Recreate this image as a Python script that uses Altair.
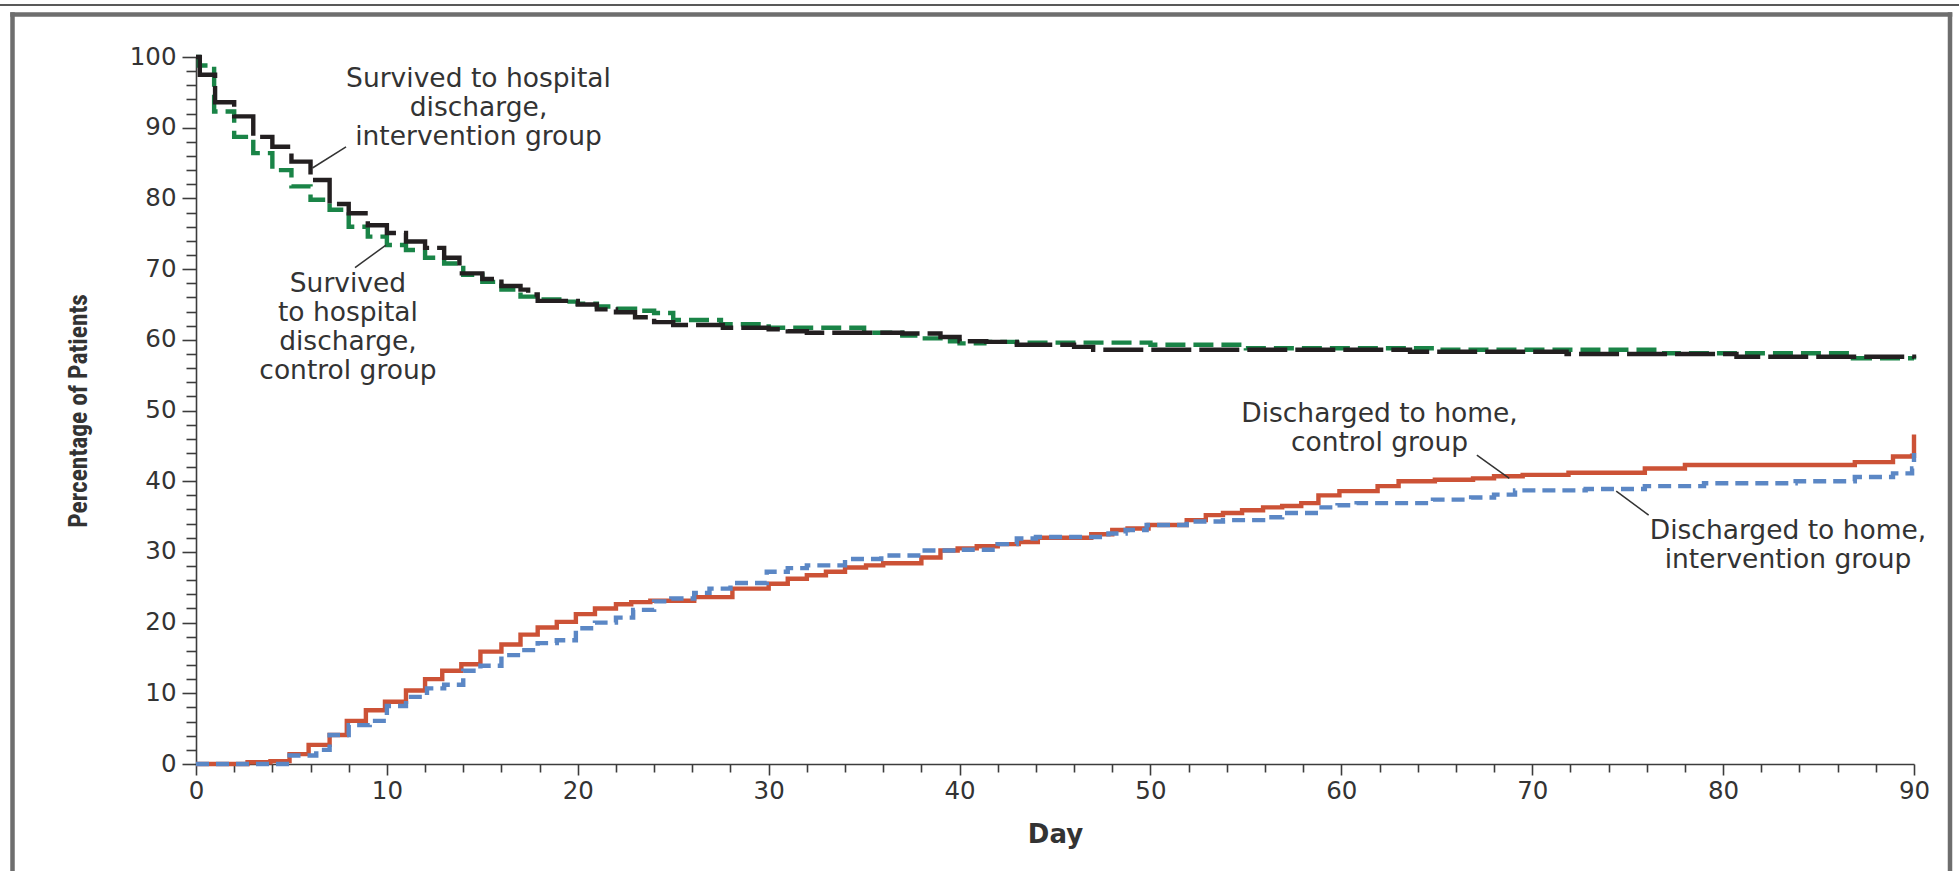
import altair as alt
import pandas as pd

# ---- Survived to hospital discharge, intervention group (black, long dash)
surv_int_day = [0, 0.2, 1, 2, 3, 4, 5, 6, 7, 8, 9, 10, 11, 12, 13, 13.8, 15, 16, 17, 17.4, 17.9,
                20, 21, 22, 23, 24, 25, 27.6, 30, 31, 32, 37, 39, 40, 41.4, 43, 46, 47, 63.6,
                71.8, 80.7, 90]
surv_int_pct = [100, 97.5, 93.6, 91.6, 88.7, 87.3, 85.2, 82.6, 79.2, 77.9, 76.2, 75.1, 73.9, 73.0,
                71.6, 69.4, 68.6, 67.6, 67.1, 66.4, 65.5, 65.0, 64.3, 63.9, 63.2, 62.5, 62.1, 61.7,
                61.5, 61.2, 61.0, 60.9, 60.4, 59.8, 59.7, 59.3, 59.0, 58.6, 58.3, 58.0, 57.6, 57.4]

# ---- Survived to hospital discharge, control group (green, dash)
surv_ctl_day = [0, 0.15, 0.95, 2, 3, 4, 5, 6, 7, 8, 9, 10, 11, 12, 13, 14, 15, 16, 17, 18, 19.2,
                20, 21, 22, 23, 24, 25, 27.5, 30, 35, 37, 38, 39, 40, 41.3, 43, 50, 55, 65, 76.8,
                86.8, 90]
surv_ctl_pct = [100, 98.8, 92.3, 88.7, 86.4, 84.0, 81.7, 79.8, 78.4, 76.0, 74.6, 73.4, 72.7, 71.6,
                70.8, 69.2, 68.2, 67.1, 66.1, 65.7, 65.4, 65.1, 64.7, 64.4, 64.1, 63.8, 62.8, 62.2,
                61.7, 61.0, 60.6, 60.2, 59.8, 59.5, 59.7, 59.6, 59.3, 58.8, 58.6, 58.1, 57.4, 57.2]

# ---- Discharged to home, intervention group (blue, short dash)
home_int_day = [0, 4.9, 6.3, 7, 8, 9.1, 10, 11, 12.1, 13, 14, 14.9, 16, 17, 17.9, 18.9, 19.9, 20.9,
                22, 22.9, 24, 24.9, 26.1, 26.9, 28, 29.9, 31, 32, 34, 35.9, 38, 39.9, 42, 43, 44,
                47.8, 48.7, 49.8, 51.9, 53.8, 55.9, 56.9, 58.8, 59.8, 60.8, 64.8, 66.8, 68, 69.1,
                72.8, 75.9, 79, 83.8, 86.9, 88.9, 89.9, 90]
home_int_pct = [0, 1.2, 2.0, 4.1, 5.5, 6.1, 8.2, 9.5, 10.7, 11.2, 13.2, 13.9, 15.4, 16.1, 17.1, 17.5,
                19.2, 20.0, 20.7, 21.8, 23.0, 23.4, 24.2, 24.8, 25.6, 27.2, 27.7, 28.1, 29.0, 29.5,
                30.2, 30.3, 31.1, 31.9, 32.1, 32.6, 33.1, 33.8, 34.3, 34.5, 34.9, 35.5, 36.3, 36.6,
                36.9, 37.4, 37.7, 38.1, 38.7, 38.9, 39.3, 39.7, 40.0, 40.6, 41.1, 41.8, 44.0]

# ---- Discharged to home, control group (red, solid)
home_ctl_day = [0, 2.7, 3.9, 4.9, 5.9, 7, 7.9, 8.9, 9.9, 11, 12, 12.9, 13.9, 14.9, 16, 17, 17.9, 18.9,
                19.9, 20.9, 22, 22.8, 23.8, 26.1, 28.1, 30, 31, 32, 33, 34, 35.1, 36, 38, 39, 39.9,
                40.9, 42, 43.1, 44.1, 46.9, 48, 48.8, 49.9, 51.9, 52.9, 53.8, 54.8, 55.9, 56.9, 57.9,
                58.8, 59.9, 61.9, 63, 64.9, 66.9, 68, 69.5, 71.9, 75.9, 78, 86.9, 88.9, 89.9, 90]
home_ctl_pct = [0, 0.25, 0.4, 1.4, 2.7, 4.1, 6.1, 7.6, 8.8, 10.4, 12.0, 13.2, 14.1, 15.9, 16.9, 18.3,
                19.3, 20.1, 21.2, 22.0, 22.6, 22.9, 23.1, 23.6, 24.8, 25.5, 26.2, 26.7, 27.2, 27.8,
                28.1, 28.4, 29.2, 30.2, 30.5, 30.8, 31.1, 31.4, 32.0, 32.5, 33.1, 33.3, 33.8, 34.5,
                35.2, 35.5, 35.9, 36.3, 36.5, 36.9, 38.0, 38.6, 39.3, 40.0, 40.2, 40.4, 40.7, 40.9,
                41.2, 41.8, 42.3, 42.7, 43.5, 43.6, 46.6]

# ---- Annotations (position of the first text line, centred)
ann_text = ["Survived to hospital\ndischarge,\nintervention group",
            "Survived\nto hospital\ndischarge,\ncontrol group",
            "Discharged to home,\ncontrol group",
            "Discharged to home,\nintervention group"]
ann_day = [14.8, 7.96, 62.0, 83.4]
ann_pct = [96.9, 67.9, 49.5, 33.0]

lead_day = [7.86, 8.33, 67.1, 74.4]
lead_pct = [87.3, 70.2, 43.7, 38.6]
lead_day2 = [6.1, 9.95, 68.8, 76.1]
lead_pct2 = [84.3, 73.4, 40.4, 35.2]

x_ticks = list(range(0, 91, 2))
y_ticks = list(range(0, 101, 2))

TXT = "#333333"
AX = "#3c3c3c"
FONT = "DejaVu Sans"
COND = ("Roboto Condensed, Noto Sans Condensed, Open Sans Condensed, "
        "DejaVu Sans Condensed, Liberation Sans Narrow, Liberation Sans, sans-serif")

x_scale = alt.Scale(domain=[0, 90], nice=False, zero=False)
y_scale = alt.Scale(domain=[0, 100], nice=False)

x_axis = alt.Axis(
    values=x_ticks,
    labelExpr="datum.value % 10 === 0 ? datum.label : ''",
    tickSize={"condition": {"test": "datum.value % 10 === 0", "value": 11}, "value": 8},
    tickColor=AX, tickWidth=1.6, domainColor=AX, domainWidth=1.6,
    labelFont=FONT, labelFontSize=24.5, labelColor=TXT, labelPadding=4,
    labelFlush=False, labelOverlap=False, grid=False,
    title="Day", titleFont=FONT, titleFontSize=26, titleFontWeight="bold",
    titleColor=TXT, titlePadding=19,
)
y_axis = alt.Axis(
    values=y_ticks,
    labelExpr="datum.value % 10 === 0 ? datum.label : ''",
    tickSize={"condition": {"test": "datum.value % 10 === 0", "value": 14}, "value": 10},
    tickColor=AX, tickWidth=1.6, domainColor=AX, domainWidth=1.6,
    labelFont=FONT, labelFontSize=24.5, labelColor=TXT, labelPadding=6,
    labelFlush=False, labelOverlap=False, grid=False,
    title="Percentage of Patients",
    titleFont=COND, titleFontSize=25.5, titleFontWeight="bold", titleColor=TXT, titlePadding=38,
)


def X(field):
    return alt.X(field, scale=x_scale, axis=x_axis)


def Y(field):
    return alt.Y(field, scale=y_scale, axis=y_axis)


def step_line(days, vals, color, dash):
    df = pd.DataFrame({"day": days, "pct": vals})
    kw = dict(color=color, strokeWidth=4.4, interpolate="step-after")
    if dash:
        kw["strokeDash"] = dash
    return alt.Chart(df).mark_line(**kw).encode(x=X("day:Q"), y=Y("pct:Q"))


red = step_line(home_ctl_day, home_ctl_pct, "#cc5236", None)
blue = step_line(home_int_day, home_int_pct, "#5b87c5", [13, 7])
green = step_line(surv_ctl_day, surv_ctl_pct, "#1a8447", [20, 8])
black = step_line(surv_int_day, surv_int_pct, "#231f20", [40, 8])

lead_df = pd.DataFrame({"day": lead_day, "pct": lead_pct, "d2": lead_day2, "p2": lead_pct2})
leaders = alt.Chart(lead_df).mark_rule(color="#333333", strokeWidth=1.5).encode(
    x=X("day:Q"), y=Y("pct:Q"), x2="d2:Q", y2="p2:Q",
)

ann_df = pd.DataFrame({"t": ann_text, "day": ann_day, "pct": ann_pct})
ann = alt.Chart(ann_df).mark_text(
    align="center", baseline="middle", lineBreak="\n", lineHeight=29,
    font=FONT, fontSize=26.5, color=TXT,
).encode(x=X("day:Q"), y=Y("pct:Q"), text="t:N")

# ---- decorative frame around the figure (pixel positions relative to plot origin)
one = pd.DataFrame({"k": [0]})
frame_top_black = alt.Chart(one).mark_rule(color="#222222", strokeWidth=1.5).encode(
    x=alt.value(-196), x2=alt.value(1763), y=alt.value(-52), y2=alt.value(-52))
frame_top = alt.Chart(one).mark_rule(color="#6e6e6e", strokeWidth=4.5, strokeCap="square").encode(
    x=alt.value(-183.5), x2=alt.value(1754), y=alt.value(-42.5), y2=alt.value(-42.5))
frame_left = alt.Chart(one).mark_rule(color="#6e6e6e", strokeWidth=4.5, strokeCap="square").encode(
    x=alt.value(-183.5), x2=alt.value(-183.5), y=alt.value(-42.5), y2=alt.value(820))
frame_right = alt.Chart(one).mark_rule(color="#6e6e6e", strokeWidth=4.5, strokeCap="square").encode(
    x=alt.value(1754), x2=alt.value(1754), y=alt.value(-42.5), y2=alt.value(820))

chart = alt.layer(
    red, blue, green, black, leaders, ann,
    frame_top_black, frame_top, frame_left, frame_right,
).properties(
    width=1718, height=707,
    padding={"left": 196, "top": 57, "right": 45, "bottom": 107},
    autosize=alt.AutoSizeParams(type="none"),
    background="white",
).configure_view(stroke=None)

chart.save("out.html", embed_options={"renderer": "svg", "actions": False})
